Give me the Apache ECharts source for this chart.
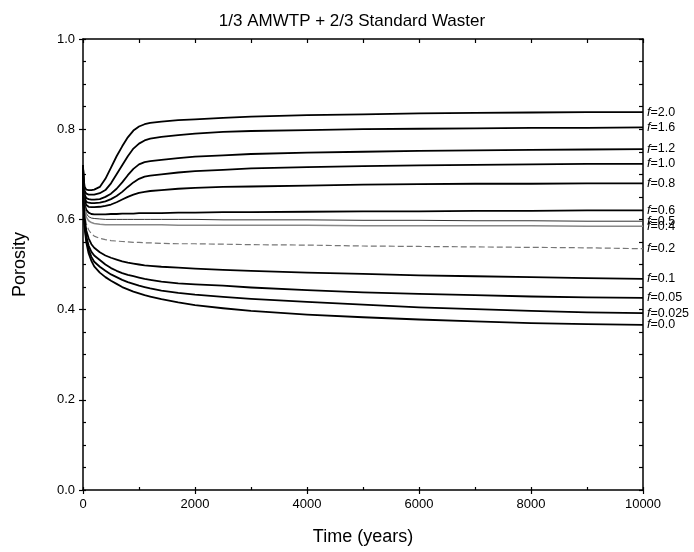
<!DOCTYPE html>
<html><head><meta charset="utf-8">
<script src="https://cdn.jsdelivr.net/npm/echarts@6/dist/echarts.min.js"></script>
<style>html,body{margin:0;padding:0;background:#fff}#c{width:694px;height:552px}</style>
</head><body><div id="c"></div>
<script>
var titleText = '1/3 AMWTP + 2/3 Standard Waster';
var xName = 'Time (years)';
var yName = 'Porosity';
var times = [0,10,30,60,100,150,200,300,400,500,600,700,800,900,1000,1100,1200,1400,1700,2000,2500,3000,4000,5000,6000,7000,8000,9000,10000];
var f20 = [0.72,0.69,0.672,0.666,0.665,0.665,0.666,0.672,0.69,0.715,0.74,0.762,0.782,0.797,0.806,0.811,0.814,0.817,0.820,0.822,0.825,0.828,0.831,0.833,0.835,0.836,0.837,0.838,0.838];
var f16 = [0.72,0.685,0.663,0.657,0.655,0.655,0.655,0.658,0.665,0.68,0.70,0.72,0.74,0.757,0.768,0.775,0.779,0.783,0.787,0.790,0.794,0.796,0.798,0.800,0.801,0.802,0.803,0.803,0.804];
var f12 = [0.72,0.68,0.655,0.647,0.645,0.644,0.644,0.645,0.65,0.657,0.668,0.682,0.698,0.712,0.722,0.727,0.729,0.732,0.736,0.739,0.742,0.745,0.748,0.750,0.752,0.753,0.754,0.755,0.756];
var f10 = [0.72,0.675,0.648,0.639,0.637,0.636,0.636,0.637,0.64,0.645,0.652,0.661,0.672,0.682,0.690,0.695,0.697,0.700,0.704,0.707,0.710,0.713,0.716,0.718,0.720,0.721,0.722,0.723,0.723];
var f08 = [0.72,0.67,0.642,0.632,0.628,0.627,0.627,0.628,0.63,0.633,0.638,0.644,0.650,0.655,0.659,0.661,0.663,0.665,0.668,0.670,0.672,0.673,0.675,0.677,0.678,0.679,0.679,0.680,0.680];
var f06 = [0.72,0.665,0.633,0.621,0.615,0.612,0.611,0.611,0.611,0.612,0.612,0.613,0.613,0.613,0.614,0.614,0.614,0.614,0.615,0.615,0.616,0.616,0.617,0.618,0.618,0.619,0.619,0.620,0.620];
var f05 = [0.72,0.66,0.627,0.613,0.606,0.603,0.602,0.601,0.600,0.600,0.600,0.600,0.600,0.600,0.600,0.600,0.600,0.600,0.600,0.600,0.599,0.599,0.599,0.598,0.598,0.597,0.597,0.596,0.596];
var f04 = [0.72,0.655,0.62,0.605,0.597,0.593,0.591,0.589,0.588,0.588,0.588,0.588,0.588,0.588,0.588,0.588,0.588,0.588,0.587,0.587,0.587,0.587,0.587,0.586,0.586,0.586,0.586,0.585,0.585];
var f02 = [0.72,0.645,0.61,0.59,0.577,0.568,0.563,0.558,0.555,0.553,0.552,0.551,0.550,0.549,0.549,0.548,0.548,0.547,0.546,0.546,0.545,0.544,0.543,0.541,0.540,0.539,0.538,0.537,0.535];
var f01 = [0.72,0.64,0.60,0.575,0.558,0.545,0.537,0.527,0.520,0.515,0.511,0.507,0.504,0.502,0.500,0.498,0.497,0.495,0.493,0.491,0.488,0.486,0.482,0.479,0.476,0.474,0.472,0.470,0.468];
var f005 = [0.72,0.635,0.59,0.562,0.542,0.528,0.520,0.510,0.500,0.492,0.486,0.481,0.477,0.474,0.471,0.468,0.466,0.462,0.458,0.456,0.453,0.449,0.443,0.438,0.435,0.432,0.429,0.427,0.426];
var f0025 = [0.72,0.632,0.585,0.555,0.533,0.517,0.506,0.495,0.486,0.478,0.472,0.466,0.461,0.457,0.453,0.450,0.447,0.442,0.437,0.433,0.428,0.424,0.417,0.411,0.405,0.401,0.397,0.394,0.392];
var f00 = [0.72,0.63,0.58,0.548,0.525,0.508,0.496,0.482,0.472,0.464,0.457,0.450,0.445,0.440,0.436,0.432,0.429,0.423,0.416,0.410,0.403,0.397,0.389,0.383,0.378,0.374,0.370,0.368,0.366];
var fLabels = ['2.0','1.6','1.2','1.0','0.8','0.6','0.5','0.4','0.2','0.1','0.05','0.025','0.0'];
var seriesData = [f20,f16,f12,f10,f08,f06,f05,f04,f02,f01,f005,f0025,f00];

var FONT = 'Liberation Sans, Arial, sans-serif';
function pairs(arr){ return times.map(function(t,i){ return [t, arr[i]]; }); }
var styles = {
  '0.5': {color:'#333', width:1, type:'solid'},
  '0.4': {color:'#888', width:1.5, type:'solid'},
  '0.2': {color:'#777', width:1.2, type:[6,3]}
};
var series = seriesData.map(function(arr, i){
  var lab = fLabels[i];
  var st = styles[lab] || {color:'#000', width:1.8, type:'solid'};
  return {
    type:'line', name:'f='+lab, data:pairs(arr), showSymbol:false, symbol:'none',
    smooth:false,
    lineStyle:{color:st.color, width:st.width, type:st.type, join:'round'},
    endLabel:{show:true, distance:4, fontFamily:FONT, fontSize:12.5, color:'#000',
      formatter: '{i|f}=' + lab,
      rich:{i:{fontStyle:'italic', fontFamily:FONT, fontSize:12.5, color:'#000'}}},
    labelLayout:{hideOverlap:false},
    z: 3
  };
});

function plainAxisX(extra){
  return Object.assign({type:'value', min:0, max:10000, axisLabel:{show:false}, splitLine:{show:false}}, extra);
}
function plainAxisY(extra){
  return Object.assign({type:'value', min:0, max:1, axisLabel:{show:false}, splitLine:{show:false}}, extra);
}

var chart = echarts.init(document.getElementById('c'), null, {renderer:'canvas'});
chart.setOption({
  animation:false,
  backgroundColor:'#fff',
  title:{text:titleText, left:347, top:8, textAlign:'center',
    textStyle:{fontFamily:FONT, fontSize:17, fontWeight:'normal', color:'#000'}},
  grid:{left:83, right:51, top:39, bottom:62, containLabel:false},
  xAxis:[{
    type:'value', min:0, max:10000, interval:2000,
    name:xName, nameLocation:'middle', nameGap:38,
    nameTextStyle:{fontFamily:FONT, fontSize:18, color:'#000'},
    axisLine:{show:true, onZero:false, lineStyle:{color:'#000', width:1.5}},
    axisTick:{show:true, inside:false, length:4, lineStyle:{color:'#000', width:1.2}},
    axisLabel:{fontFamily:FONT, fontSize:13, color:'#000', margin:8,
      formatter:function(v){ return String(v); }},
    splitLine:{show:false}
  },
  plainAxisX({interval:1000, position:'top',
    axisLine:{show:true, onZero:false, lineStyle:{color:'#000', width:1.5}},
    axisTick:{show:true, inside:true, length:4, lineStyle:{color:'#000', width:1.2}}}),
  plainAxisX({interval:1000, position:'bottom',
    axisLine:{show:false},
    axisTick:{show:true, inside:true, length:3, lineStyle:{color:'#000', width:1.2}}})
  ],
  yAxis:[{
    type:'value', min:0, max:1, interval:0.2,
    name:yName, nameLocation:'middle', nameGap:54, nameRotate:90,
    nameTextStyle:{fontFamily:FONT, fontSize:18, color:'#000'},
    axisLine:{show:true, onZero:false, lineStyle:{color:'#000', width:1.5}},
    axisTick:{show:true, inside:false, length:4, lineStyle:{color:'#000', width:1.2}},
    axisLabel:{fontFamily:FONT, fontSize:13, color:'#000', margin:8,
      formatter:function(v){ return v.toFixed(1); }},
    splitLine:{show:false}
  },
  plainAxisY({interval:0.05, position:'right',
    axisLine:{show:true, onZero:false, lineStyle:{color:'#000', width:1.5}},
    axisTick:{show:true, inside:true, length:4, lineStyle:{color:'#000', width:1.2}}}),
  plainAxisY({interval:0.05, position:'left',
    axisLine:{show:false},
    axisTick:{show:true, inside:true, length:3, lineStyle:{color:'#000', width:1.2}}})
  ],
  series: series
});
</script>
</body></html>
